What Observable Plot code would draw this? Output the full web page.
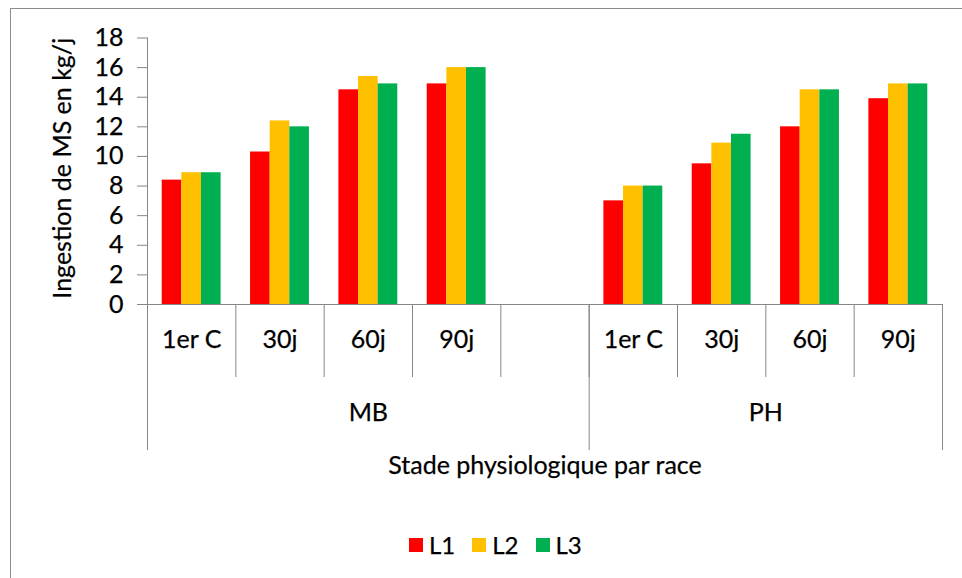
<!DOCTYPE html>
<html>
<head>
<meta charset="utf-8">
<script src="https://cdn.jsdelivr.net/npm/d3@7"></script>
<script src="https://cdn.jsdelivr.net/npm/@observablehq/plot@0.6"></script>
<style>
  body { margin: 0; background: #fff; }
  #chart { position: relative; width: 962px; height: 578px; overflow: hidden; background: #fff; }
  #border { position: absolute; left: 10px; top: 8px; width: 1000px; height: 700px; border: 1.5px solid #8d8d8d; box-sizing: border-box; }
  #plot { position: absolute; left: 0; top: 0; }
  #legend { position: absolute; left: 409px; top: 528px; font-family: Lato, sans-serif; font-size: 24px; color: #000; }
  #legend span { margin-right: 17px !important; }
  #legend svg { margin-right: 6px !important; }
  #plot text { stroke: #000; stroke-width: 0.25px; }
  #legend { -webkit-text-stroke: 0.25px #000; }
</style>
</head>
<body>
<div id="chart">
  <div id="border"></div>
  <div id="plot"></div>
  <div id="legend"></div>
</div>
<script>
// Feed intake (kg DM / day) by breed, physiological stage and lot
const races = ["MB", "PH"];
const stades = ["1er C", "30j", "60j", "90j"];
const lots = ["L1", "L2", "L3"];
const lotColors = ["#ff0000", "#ffc000", "#00b050"];

const mbL1 = [8.4, 10.3, 14.5, 14.9];
const mbL2 = [8.9, 12.4, 15.4, 16.0];
const mbL3 = [8.9, 12.0, 14.9, 16.0];
const phL1 = [7.0, 9.5, 12.0, 13.9];
const phL2 = [8.0, 10.9, 14.5, 14.9];
const phL3 = [8.0, 11.5, 14.5, 14.9];

const yTicks = [0, 2, 4, 6, 8, 10, 12, 14, 16, 18];
const yTitle = "Ingestion de MS en kg/j";
const xTitle = "Stade physiologique par race";

// series[race][lot][stage]
const series = {MB: [mbL1, mbL2, mbL3], PH: [phL1, phL2, phL3]};

// Category slots along x: MB keeps an empty slot after its last stage
const categories = [
  ...stades.map((stade) => ({race: "MB", stade})),
  {race: "MB", stade: ""},
  ...stades.map((stade) => ({race: "PH", stade}))
];
categories.forEach((c, i) => (c.i = i));

const rows = [];
for (const race of races) {
  stades.forEach((stade, k) => {
    const cat = categories.find((c) => c.race === race && c.stade === stade).i;
    lots.forEach((lot, j) => rows.push({race, stade, lot, j, cat, value: series[race][j][k]}));
  });
}

// Clustered layout: 3 bars + a gap of 1.5 bar widths per slot
const slot = lots.length + 1.5;
const barX1 = (d) => d.cat + (0.75 + d.j) / slot;
const barX2 = (d) => d.cat + (1.75 + d.j) / slot;

const raceSpans = races.map((race) => {
  const idx = categories.filter((c) => c.race === race).map((c) => c.i);
  return {race, x1: d3.min(idx), x2: d3.max(idx) + 1};
});
const slotEdges = d3.range(categories.length + 1);
const raceEdges = [0, ...raceSpans.map((s) => s.x2)];

const axisColor = "#868686";
const font = "Lato, sans-serif";
const fs = 25;

const chart = Plot.plot({
  width: 962,
  height: 578,
  marginLeft: 147,
  marginRight: 20,
  marginTop: 37.5,
  marginBottom: 274,
  style: {fontFamily: font, fontSize: fs + "px", color: "#000", background: "transparent"},
  x: {type: "linear", domain: [0, categories.length], axis: null},
  y: {domain: [0, 18], axis: null},
  color: {domain: lots, range: lotColors},
  marks: [
    Plot.rect(rows, {x1: barX1, x2: barX2, y1: 0, y2: "value", fill: "lot"}),
    Plot.axisY(yTicks, {tickSize: 10, tickPadding: 14, stroke: axisColor, fill: "#000", label: null, fontSize: fs, fontFamily: font}),
    Plot.ruleX([0], {y1: 0, y2: 18, stroke: axisColor}),
    Plot.ruleY([0], {x1: 0, x2: categories.length, stroke: axisColor}),
    Plot.ruleX(slotEdges, {x: (d) => d, y1: 0, y2: 0, insetBottom: -73, stroke: axisColor}),
    Plot.ruleX(raceEdges, {x: (d) => d, y1: 0, y2: 0, insetBottom: -146, stroke: axisColor}),
    Plot.text(categories, {x: (d) => d.i + 0.5, text: "stade", frameAnchor: "bottom", dy: 43, fontSize: fs, fill: "#000"}),
    Plot.text(raceSpans, {x: (d) => (d.x1 + d.x2) / 2, text: "race", frameAnchor: "bottom", dy: 116, fontSize: fs, fill: "#000"}),
    Plot.text([xTitle], {frameAnchor: "bottom", dy: 169, fontSize: fs, fill: "#000"}),
    Plot.text([yTitle], {frameAnchor: "left", textAnchor: "middle", rotate: -90, dx: -85, dy: -3, fontSize: fs, fill: "#000"})
  ]
});
document.getElementById("plot").append(chart);

const legend = Plot.legend({
  color: {domain: lots, range: lotColors},
  legend: "swatches",
  swatchSize: 14,
  style: {fontFamily: font, fontSize: "24px", color: "#000"}
});
document.getElementById("legend").append(legend);
</script>
</body>
</html>
